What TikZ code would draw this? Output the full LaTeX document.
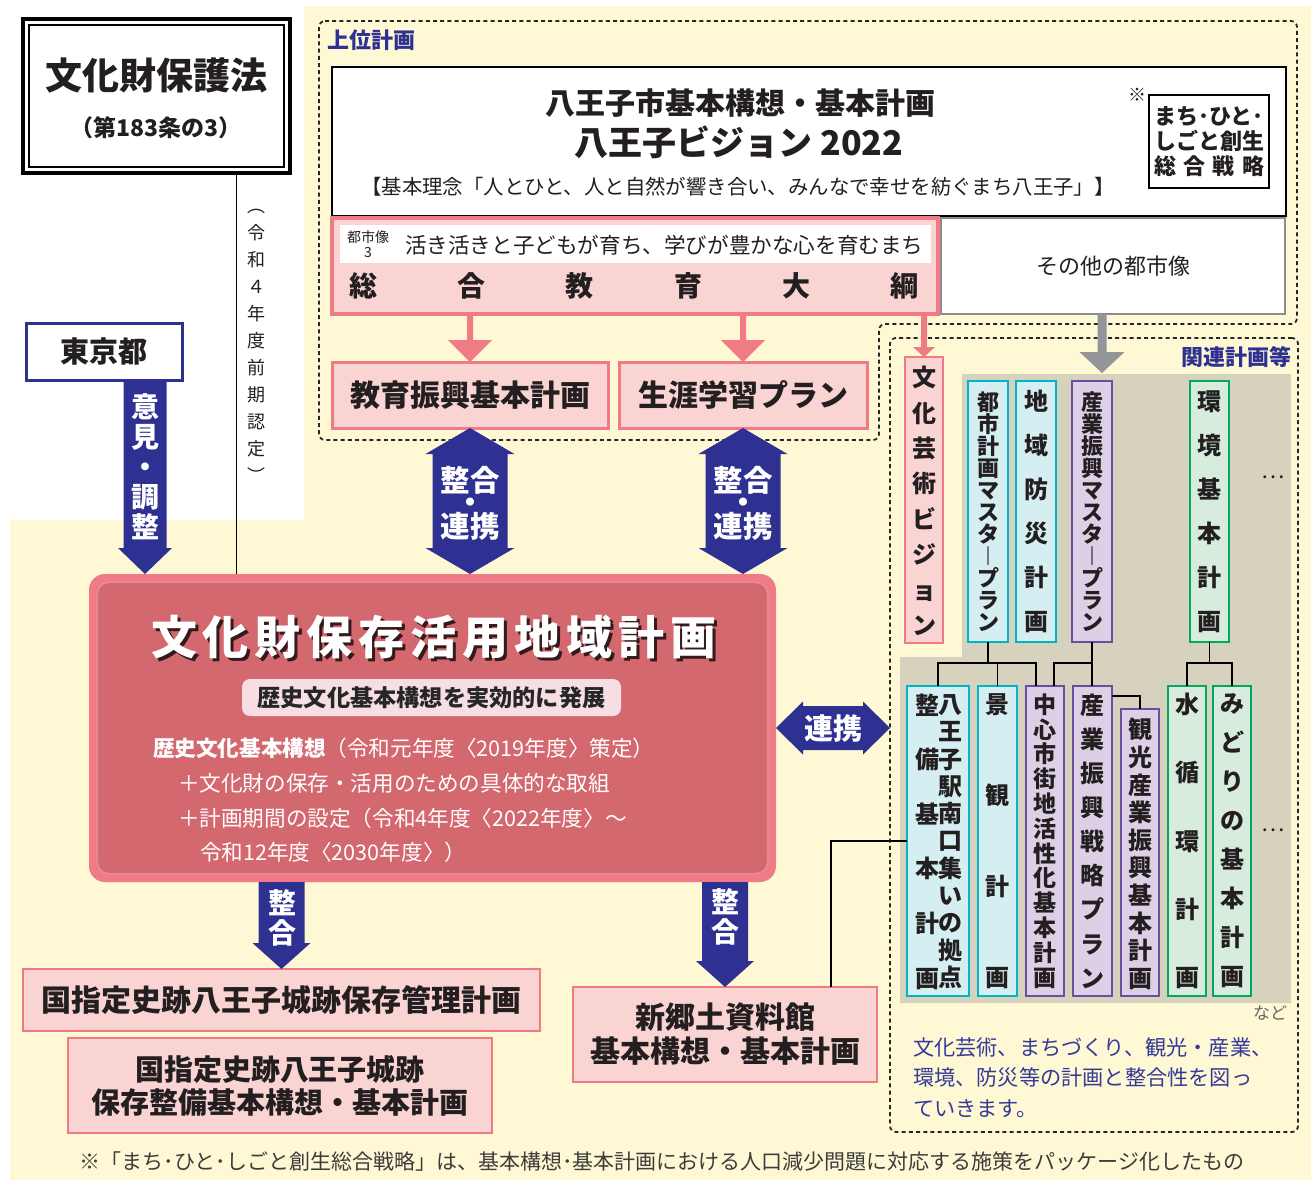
\documentclass[tikz,border=0pt]{standalone}
\usepackage{fontspec}
\setmainfont{Noto Sans CJK JP}
\usetikzlibrary{fit,calc}
\definecolor{cream}{HTML}{FFF8D5}
\definecolor{navy}{HTML}{2E3192}
\definecolor{pinkb}{HTML}{F07A85}
\definecolor{pinkf}{HTML}{FAD3D3}
\definecolor{mainf}{HTML}{D4686F}
\definecolor{mainedge}{HTML}{E48891}
\definecolor{subf}{HTML}{F6DEE2}
\definecolor{tealb}{HTML}{00B5C8}
\definecolor{tealf}{HTML}{D5EEF2}
\definecolor{purb}{HTML}{6A4FA0}
\definecolor{purf}{HTML}{DDD0E6}
\definecolor{greb}{HTML}{00A862}
\definecolor{gref}{HTML}{D7ECDD}
\definecolor{panel}{HTML}{D6D2BE}
\definecolor{grayarrow}{HTML}{939598}
\definecolor{txt}{HTML}{231F20}
\definecolor{bluetxt}{HTML}{353A98}
\definecolor{footgray}{HTML}{3C3C3C}
\def\gobbleone#1{}
\def\keepone#1{#1}
\def\vt#1{\vtA#1\relax\relax}
\def\vtA#1#2{#1\ifx\relax#2\expandafter\gobbleone\else\expandafter\keepone\fi{\\\vtA#2}}
\newcommand\fs[2]{\fontsize{#1}{#2}\selectfont\lineskiplimit=-30pt\lineskip=0pt\relax}
% arrows: #1 start, #2 end, #3 colour, #4 half shaft, #5 half head, #6 head length
\newcommand\vsarrow[6]{\fill[#3] let \p1=(#1),\p2=(#2) in (\x1-#4,\y1) -- (\x1+#4,\y1) -- (\x1+#4,\y2+#6) -- (\x1+#5,\y2+#6) -- (\x1,\y2) -- (\x1-#5,\y2+#6) -- (\x1-#4,\y2+#6) -- cycle;}
\newcommand\vdarrow[6]{\fill[#3] let \p1=(#1),\p2=(#2) in (\x1,\y1) -- (\x1+#5,\y1-#6) -- (\x1+#4,\y1-#6) -- (\x1+#4,\y2+#6) -- (\x1+#5,\y2+#6) -- (\x1,\y2) -- (\x1-#5,\y2+#6) -- (\x1-#4,\y2+#6) -- (\x1-#4,\y1-#6) -- (\x1-#5,\y1-#6) -- cycle;}
\newcommand\hdarrow[6]{\fill[#3] let \p1=(#1),\p2=(#2) in (\x1,\y1) -- (\x1+#6,\y1+#5) -- (\x1+#6,\y1+#4) -- (\x2-#6,\y1+#4) -- (\x2-#6,\y1+#5) -- (\x2,\y1) -- (\x2-#6,\y1-#5) -- (\x2-#6,\y1-#4) -- (\x1+#6,\y1-#4) -- (\x1+#6,\y1-#5) -- cycle;}
\begin{document}
\begin{tikzpicture}[x=0.5pt,y=-0.5pt,
 every node/.style={inner sep=0pt,outer sep=0pt,text=txt},
 dotline/.style={draw=black!85,line width=0.9pt,dash pattern=on 2pt off 1.6pt,rounded corners=3pt},
 pinkbox/.style={draw=pinkb,fill=pinkf,line width=1.2pt},
 rbox/.style={draw=#1b,fill=#1f,line width=1.4pt},
 ctr/.style={align=center},
 wtxt/.style={text=white,align=center},
 wbig/.style={text=white,font={\fs{14.75pt}{16pt}\bfseries}},
 wdot/.style={text=white,font={\fs{4.5pt}{5pt}}},
 tree/.style={draw=black,line width=0.7pt},
 lbl/.style={text=navy,font={\fs{11pt}{13pt}\bfseries}}]
\useasboundingbox (0,0) rectangle (1314,1180);
\fill[white] (0,0) rectangle (1314,1180);
\fill[cream] (304,6) -- (1311,6) -- (1311,1180) -- (10,1180) -- (10,520) -- (304,520) -- cycle;
% frames
\draw[dotline] (319,21) -- (1297,21) -- (1297,324) -- (879,324) -- (879,440) -- (319,440) -- cycle;
\node[dotline,fit={(890,338) (1298,1132)}] (rel) {};
\fill[panel] (962,374) -- (1291,374) -- (1291,1003) -- (900,1003) -- (900,657) -- (962,657) -- cycle;
\node[lbl,anchor=west] (jouiL) at (327,40) {上位計画};
\node[lbl,anchor=east] (kanrenL) at (1291,357) {関連計画等};
% law
\node[draw=black,line width=1.6pt,fill=white,fit={(23,19) (290,173)}] (hogoho) {};
\draw[line width=0.7pt] ($(hogoho.north west)+(6,6)$) rectangle ($(hogoho.south east)+(-6,-6)$);
\node[font={\fs{18.5pt}{20pt}\bfseries}] (hogohoT) at (157,75) {文化財保護法};
\node[font={\fs{11.5pt}{13pt}\bfseries}] (hogohoS) at (156,128) {（第183条の3）};
% Tokyo
\node[draw=navy,line width=1.5pt,fill=white,fit={(26,323) (182,380)}] (tokyo) {};
\node[font={\fs{14.5pt}{16pt}\bfseries}] (tokyoT) at (tokyo.center) {東京都};
% vision
\node[draw=black,line width=1.2pt,fill=white,fit={(332,67) (1286,216)}] (vision) {};
\node[font={\fs{15pt}{17pt}\bfseries}] (visT1) at (740,103) {八王子市基本構想・基本計画};
\node[font={\fs{17pt}{19pt}\bfseries}] (visT2) at (739,142) {八王子ビジョン 2022};
\node[font={\fs{10.2pt}{12pt}}] (visT3) at (738,187) {【基本理念「人とひと、人と自然が響き合い、みんなで幸せを紡ぐまち八王子」】};
\node[font={\fs{9pt}{10pt}}] (kome) at (1137,95) {※};
\node[draw=black,line width=0.9pt,fill=white,fit={(1149,95) (1269,188)}] (sousei) {};
\node[align=left,font={\fs{11pt}{12.5pt}\bfseries}] (souseiT) at (sousei.center) {まち･ひと･\\しごと創生\\\makebox[5em]{総\hfill 合\hfill 戦\hfill 略}};
% sogo kyoiku taiko
\node[draw=pinkb,line width=2pt,fill=pinkf,fit={(332,218) (938,314)}] (sogo) {};
\fill[white] (340,225) rectangle (931,263);
\node[align=center,font={\fs{7pt}{7.5pt}}] (toshizo) at (368,244) {都市像\\3};
\node[anchor=west,font={\fs{10.8pt}{12pt}}] (toshizoT) at (405,245) {活き活きと子どもが育ち、学びが豊かな心を育むまち};
\node[font={\fs{14pt}{16pt}\bfseries}] (taiko) at (634,286) {\makebox[285pt]{総\hfill 合\hfill 教\hfill 育\hfill 大\hfill 綱}};
\node[draw=black!45,line width=1pt,fill=white,fit={(941,218) (1285,314)}] (sonota) {};
\node[font={\fs{11pt}{13pt}}] (sonotaT) at (sonota.center) {その他の都市像};
% education plans
\node[pinkbox,line width=1.5pt,fit={(332,362) (608,428)}] (kyoiku) {};
\node[font={\fs{15pt}{17pt}\bfseries}] (kyoikuT) at (kyoiku.center) {教育振興基本計画};
\node[pinkbox,line width=1.5pt,fit={(619,362) (867,428)}] (shogai) {};
\node[font={\fs{15pt}{17pt}\bfseries}] (shogaiT) at (shogai.center) {生涯学習プラン};
% main plan
\node[fill=pinkb,rounded corners=8pt,fit={(89,574) (776,882)}] (main) {};
\fill[mainf,rounded corners=6pt] (97,582) rectangle (768,874);
\draw[mainedge,line width=1.2pt,rounded corners=6pt] (97,582) rectangle (768,874);
\node[font={\fs{23pt}{25pt}\bfseries},text=black!75!mainf] (titleS) at (437,640) {\makebox[283pt]{文\hfill 化\hfill 財\hfill 保\hfill 存\hfill 活\hfill 用\hfill 地\hfill 域\hfill 計\hfill 画}};
\node[font={\fs{23pt}{25pt}\bfseries},text=white] (title) at (434,637) {\makebox[283pt]{文\hfill 化\hfill 財\hfill 保\hfill 存\hfill 活\hfill 用\hfill 地\hfill 域\hfill 計\hfill 画}};
\node[fill=subf,rounded corners=4pt,fit={(242,679) (621,716)}] (hatten) {};
\node[font={\fs{11.6pt}{14pt}\bfseries},text=black!85] (hattenT) at (hatten.center) {歴史文化基本構想を実効的に発展};
\node[anchor=west,text=white,font={\fs{10.8pt}{12pt}}] (l1) at (153,748) {\textbf{歴史文化基本構想}（令和元年度〈2019年度〉策定）};
\node[anchor=west,text=white,font={\fs{10.8pt}{12pt}}] (l2) at (178,783) {＋文化財の保存・活用のための具体的な取組};
\node[anchor=west,text=white,font={\fs{10.8pt}{12pt}}] (l3) at (178,818) {＋計画期間の設定（令和4年度〈2022年度〉～};
\node[anchor=west,text=white,font={\fs{10.8pt}{12pt}}] (l4) at (200,852) {令和12年度〈2030年度〉）};
% law line
\coordinate (hl) at ($(hogoho.south)+(80,0)$);
\draw[line width=0.6pt] (hl) -- (hl |- main.north);
\node[align=center,font={\fs{9pt}{13.5pt}}] (nintei) at (256,346) {\vt{︵令和４年度前期認定︶}};
% related plans row 1
\node[rbox=pink,line width=1.2pt,fit={(905,357) (943,643)}] (bunka) {};
\node[ctr,font={\fs{12pt}{17.7pt}\bfseries}] (bunkaT) at (924,501) {\vt{文化芸術ビジョン}};
\node[rbox=teal,fit={(968,381) (1008,642)}] (toshi) {};
\node[ctr,font={\fs{11pt}{11pt}\bfseries}] (toshiT) at (toshi.center) {\vt{都市計画マスタ︱プラン}};
\node[rbox=teal,fit={(1016,381) (1056,642)}] (bosai) {};
\node[ctr,font={\fs{12pt}{22pt}\bfseries}] (bosaiT) at (bosai.center) {\vt{地域防災計画}};
\node[rbox=pur,fit={(1072,381) (1112,642)}] (sangyo) {};
\node[ctr,font={\fs{11pt}{11pt}\bfseries}] (sangyoT) at (sangyo.center) {\vt{産業振興マスタ︱プラン}};
\node[rbox=gre,fit={(1190,381) (1229,642)}] (kankyo) {};
\node[ctr,font={\fs{12pt}{22pt}\bfseries}] (kankyoT) at (kankyo.center) {\vt{環境基本計画}};
\node[font={\fs{11pt}{12pt}}] (dots1) at (1273,477) {…};
% row 2
\node[rbox=teal,fit={(907,686) (969,996)}] (seibi) {};
\node[ctr,font={\fs{12pt}{13.65pt}\bfseries}] (seibiR) at (950,841.5) {\vt{八王子駅南口集いの拠点}};
\node[ctr,font={\fs{12pt}{27.3pt}\bfseries}] (seibiL) at (927,841.5) {\vt{整備基本計画}};
\node[rbox=teal,fit={(978,686) (1017,996)}] (keikan) {};
\node[ctr,font={\fs{12pt}{45.5pt}\bfseries}] (keikanT) at (keikan.center) {\vt{景観計画}};
\node[rbox=pur,fit={(1026,686) (1064,996)}] (chushin) {};
\node[ctr,font={\fs{11.5pt}{12.4pt}\bfseries}] (chushinT) at (chushin.center) {\vt{中心市街地活性化基本計画}};
\node[rbox=pur,fit={(1073,686) (1112,996)}] (senryaku) {};
\node[ctr,font={\fs{12pt}{17.06pt}\bfseries}] (senryakuT) at (senryaku.center) {\vt{産業振興戦略プラン}};
\node[rbox=pur,fit={(1121,709) (1159,996)}] (kanko) {};
\node[ctr,font={\fs{12pt}{13.8pt}\bfseries}] (kankoT) at (1140,854) {\vt{観光産業振興基本計画}};
\node[rbox=gre,fit={(1168,686) (1206,996)}] (mizu) {};
\node[ctr,font={\fs{12pt}{34.1pt}\bfseries}] (mizuT) at (mizu.center) {\vt{水循環計画}};
\node[rbox=gre,fit={(1213,686) (1251,996)}] (midori) {};
\node[ctr,font={\fs{12pt}{19.5pt}\bfseries}] (midoriT) at (midori.center) {\vt{みどりの基本計画}};
\node[font={\fs{11pt}{12pt}}] (dots2) at (1273,830) {…};
% tree
\coordinate (bus) at (0,663);
\draw[tree] (toshi.south) -- (toshi.south |- bus) -| (seibi.north);
\draw[tree] (toshi.south |- bus) -| (keikan.north);
\draw[tree] (toshi.south |- bus) -| ($(chushin.north)+(-9,0)$);
\draw[tree] (sangyo.south) -- (sangyo.south |- bus) -| ($(chushin.north)+(9,0)$);
\draw[tree] (sangyo.south |- bus) -- (sangyo.south |- senryaku.north);
\draw[tree] ($(senryaku.north east)+(0,10)$) -| (kanko.north);
\draw[tree] (kankyo.south) -- (kankyo.south |- bus) -| (mizu.north);
\draw[tree] (kankyo.south |- bus) -| (midori.north);
% bottom plans
\node[pinkbox,fit={(23,969) (540,1031)}] (kanri) {};
\node[font={\fs{15pt}{18pt}\bfseries}] (kanriT) at (kanri.center) {国指定史跡八王子城跡保存管理計画};
\node[pinkbox,fit={(68,1038) (492,1133)}] (seibikihon) {};
\node[ctr,font={\fs{14.5pt}{16.5pt}\bfseries}] (seibikihonT) at (seibikihon.center) {国指定史跡八王子城跡\\保存整備基本構想・基本計画};
\node[pinkbox,fit={(573,987) (877,1082)}] (shinkyodo) {};
\node[ctr,font={\fs{15pt}{17pt}\bfseries}] (shinkyodoT) at (shinkyodo.center) {新郷土資料館\\基本構想・基本計画};
\draw[tree] ($(shinkyodo.north east)+(-46,0)$) |- (seibi.west);
% arrows
\coordinate (kyT) at (kyoiku.north |- sogo.south);
\coordinate (shT) at (shogai.north |- sogo.south);
\coordinate (buT) at (bunka.north |- sogo.south);
\vsarrow{kyT}{kyoiku.north}{pinkb}{1.5pt}{11pt}{11pt}
\vsarrow{shT}{shogai.north}{pinkb}{1.5pt}{11pt}{11pt}
\vsarrow{buT}{bunka.north}{pinkb}{1.5pt}{5.5pt}{5pt}
\coordinate (gtip) at (1102,373);
\coordinate (gtop) at (gtip |- sonota.south);
\vsarrow{gtop}{gtip}{grayarrow}{2.25pt}{11.25pt}{10.5pt}
\coordinate (ikT) at ($(tokyo.south)+(41,0)$);
\coordinate (ikB) at (ikT |- main.north);
\vsarrow{ikT}{ikB}{navy}{10.75pt}{13.5pt}{13pt}
\node[wtxt,font={\fs{14pt}{15pt}\bfseries}] (ikenT) at (145,467) {\vt{意見・調整}};
\coordinate (k1B) at (kyoiku.south |- main.north);
\coordinate (k2B) at (shogai.south |- main.north);
\vdarrow{kyoiku.south}{k1B}{navy}{18.75pt}{22.25pt}{13pt}
\vdarrow{shogai.south}{k2B}{navy}{18.75pt}{22.25pt}{13pt}
\coordinate (k1M) at ($(kyoiku.south)!0.5!(k1B)$);
\coordinate (k2M) at ($(shogai.south)!0.5!(k2B)$);
\node[wbig] (renkei1a) at ($(k1M)+(0,-21)$) {整合};
\node[wdot] (renkei1b) at ($(k1M)+(0,1)$) {●};
\node[wbig] (renkei1c) at ($(k1M)+(0,25)$) {連携};
\node[wbig] (renkei2a) at ($(k2M)+(0,-21)$) {整合};
\node[wdot] (renkei2b) at ($(k2M)+(0,1)$) {●};
\node[wbig] (renkei2c) at ($(k2M)+(0,25)$) {連携};
\coordinate (renR) at (main.east -| rel.west);
\hdarrow{main.east}{renR}{navy}{11pt}{13.25pt}{13.5pt}
\node[wtxt,font={\fs{14.5pt}{16pt}\bfseries}] (renkeiH) at ($(main.east)!0.5!(renR)$) {連携};
\coordinate (s1T) at (kanri.north |- main.south);
\coordinate (s2T) at (shinkyodo.north |- main.south);
\vsarrow{s1T}{kanri.north}{navy}{11.5pt}{14.5pt}{13pt}
\vsarrow{s2T}{shinkyodo.north}{navy}{11.5pt}{14.5pt}{13pt}
\node[wtxt,font={\fs{14pt}{15pt}\bfseries}] (seigo1) at (282,918) {\vt{整合}};
\node[wtxt,font={\fs{14pt}{15pt}\bfseries}] (seigo2) at (725,917) {\vt{整合}};
% notes
\node[anchor=east,font={\fs{8.5pt}{10pt}},text=black!60] (nado) at (1287,1013) {など};
\node[anchor=west,align=left,font={\fs{10.6pt}{15.25pt}},text=bluetxt] (reltxt) at (913,1077.5) {文化芸術、まちづくり、観光・産業、\\環境、防災等の計画と整合性を図っ\\ていきます。};
\node[font={\fs{10.5pt}{12pt}},text=footgray] (foot) at (662,1162) {※「まち･ひと･しごと創生総合戦略」は、基本構想･基本計画における人口減少問題に対応する施策をパッケージ化したもの};
\end{tikzpicture}
\end{document}
